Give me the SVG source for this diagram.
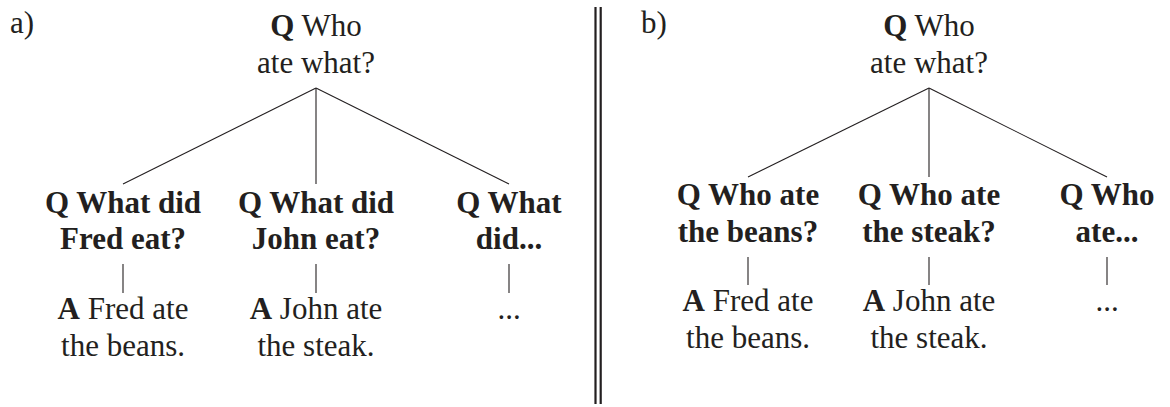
<svg xmlns="http://www.w3.org/2000/svg" width="1170" height="407" viewBox="0 0 1170 407">
<style>
text{font-family:"Liberation Serif","Times New Roman",serif;font-size:31px;fill:#231f20;text-anchor:middle}
.b{font-weight:bold}
.lbl{text-anchor:start}
.e{stroke:#231f20;stroke-width:1.1;fill:none}
.sep{stroke:#231f20;stroke-width:2.2}
</style>
<rect width="1170" height="407" fill="#fff"/>
<text class="lbl" x="10" y="33">a)</text>
<text class="lbl" x="641" y="33">b)</text>
<g id="separator">
<line class="sep" x1="595.5" y1="7" x2="595.5" y2="404"/>
<line class="sep" x1="600.7" y1="7" x2="600.7" y2="404"/>
</g>
<g id="connectors">
<line class="e" x1="316" y1="88" x2="123" y2="184"/>
<line class="e" x1="316" y1="88" x2="316" y2="184"/>
<line class="e" x1="316" y1="88" x2="509" y2="184"/>
<line class="e" x1="123" y1="264" x2="123" y2="293"/>
<line class="e" x1="316" y1="264" x2="316" y2="293"/>
<line class="e" x1="509" y1="264" x2="509" y2="293"/>
<line class="e" x1="929" y1="88" x2="748" y2="177"/>
<line class="e" x1="929" y1="88" x2="929" y2="177"/>
<line class="e" x1="929" y1="88" x2="1107" y2="177"/>
<line class="e" x1="748" y1="257" x2="748" y2="285"/>
<line class="e" x1="929" y1="257" x2="929" y2="285"/>
<line class="e" x1="1107" y1="257" x2="1107" y2="285"/>
</g>
<g id="a-root"><text x="316" y="36"><tspan class="b">Q</tspan> Who</text><text x="316" y="73">ate what?</text></g>
<g id="a-q1" class="b"><text class="b" x="123" y="213">Q What did</text><text class="b" x="123" y="249">Fred eat?</text></g>
<g id="a-q2"><text class="b" x="316" y="213">Q What did</text><text class="b" x="316" y="249">John eat?</text></g>
<g id="a-q3"><text class="b" x="509" y="213">Q What</text><text class="b" x="509" y="249">did...</text></g>
<g id="a-a1"><text x="123" y="319"><tspan class="b">A</tspan> Fred ate</text><text x="123" y="356">the beans.</text></g>
<g id="a-a2"><text x="316" y="319"><tspan class="b">A</tspan> John ate</text><text x="316" y="356">the steak.</text></g>
<g id="a-a3"><text x="509" y="319">...</text></g>
<g id="b-root"><text x="929" y="36"><tspan class="b">Q</tspan> Who</text><text x="929" y="73">ate what?</text></g>
<g id="b-q1"><text class="b" x="748" y="205">Q Who ate</text><text class="b" x="748" y="242">the beans?</text></g>
<g id="b-q2"><text class="b" x="929" y="205">Q Who ate</text><text class="b" x="929" y="242">the steak?</text></g>
<g id="b-q3"><text class="b" x="1107" y="205">Q Who</text><text class="b" x="1107" y="242">ate...</text></g>
<g id="b-a1"><text x="748" y="311"><tspan class="b">A</tspan> Fred ate</text><text x="748" y="348">the beans.</text></g>
<g id="b-a2"><text x="929" y="311"><tspan class="b">A</tspan> John ate</text><text x="929" y="348">the steak.</text></g>
<g id="b-a3"><text x="1107" y="311">...</text></g>
</svg>
